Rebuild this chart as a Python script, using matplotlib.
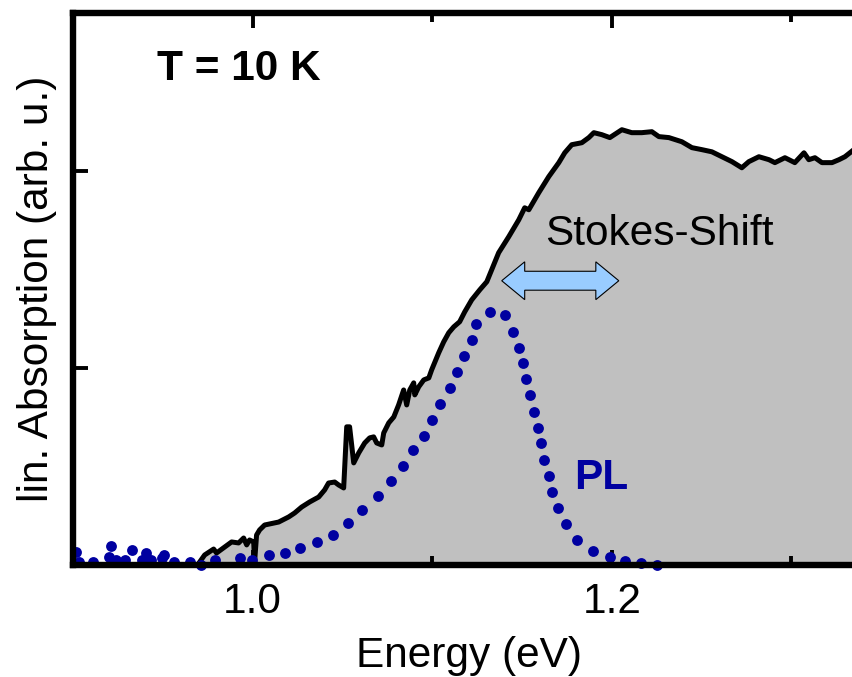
import matplotlib
matplotlib.use("Agg")
import matplotlib.pyplot as plt
from matplotlib.patches import Polygon
from matplotlib.ticker import MultipleLocator

plt.rcParams['font.family'] = ['Liberation Sans', 'DejaVu Sans']

# absorption spectrum (black line, gray fill)
abs_x = [0.9705, 0.9733, 0.9783, 0.9799, 0.9844, 0.9883, 0.9922, 0.9950, 0.9967, 0.9983,
         1.0006, 1.0011, 1.0022, 1.0039, 1.0067, 1.0145, 1.0201, 1.0234, 1.0273, 1.0318,
         1.0368, 1.0401, 1.0423, 1.0457, 1.0479, 1.0507, 1.0524, 1.0540, 1.0563, 1.0591,
         1.0624, 1.0652, 1.0674, 1.0691, 1.0719, 1.0730, 1.0758, 1.0786, 1.0813, 1.0841,
         1.0858, 1.0875, 1.0897, 1.0903, 1.0925, 1.0953, 1.0981, 1.0997, 1.1036, 1.1064,
         1.1092, 1.1120, 1.1153, 1.1181, 1.1220, 1.1265, 1.1304, 1.1370, 1.1426, 1.1482,
         1.1515, 1.1538, 1.1554, 1.1593, 1.1649, 1.1705, 1.1738, 1.1777, 1.1833, 1.1872,
         1.1900, 1.1944, 1.1989, 1.2056, 1.2111, 1.2167, 1.2223, 1.2262, 1.2318, 1.2390,
         1.2446, 1.2501, 1.2557, 1.2613, 1.2669, 1.2724, 1.2763, 1.2819, 1.2875, 1.2908,
         1.2964, 1.3019, 1.3070, 1.3097, 1.3131, 1.3170, 1.3226, 1.3265, 1.3298, 1.3348,
         1.3409]
abs_y = [0.015, 0.051, 0.081, 0.061, 0.091, 0.117, 0.112, 0.137, 0.102, 0.127,
         0.117, 0.015, 0.152, 0.178, 0.203, 0.218, 0.244, 0.264, 0.294, 0.320,
         0.345, 0.381, 0.416, 0.421, 0.406, 0.391, 0.701, 0.701, 0.518, 0.569,
         0.619, 0.645, 0.650, 0.619, 0.609, 0.670, 0.721, 0.751, 0.812, 0.888,
         0.812, 0.888, 0.924, 0.863, 0.904, 0.939, 0.949, 0.990, 1.076, 1.132,
         1.178, 1.208, 1.234, 1.284, 1.345, 1.396, 1.437, 1.584, 1.665, 1.751,
         1.812, 1.802, 1.827, 1.888, 1.970, 2.041, 2.091, 2.132, 2.142, 2.168,
         2.193, 2.183, 2.168, 2.208, 2.193, 2.193, 2.198, 2.173, 2.168, 2.147,
         2.117, 2.107, 2.096, 2.071, 2.046, 2.015, 2.046, 2.071, 2.056, 2.041,
         2.066, 2.041, 2.091, 2.056, 2.066, 2.041, 2.041, 2.056, 2.071, 2.107,
         2.120]

# photoluminescence (blue dots)
pl_x = [0.9019, 0.9031, 0.9114, 0.9198, 0.9214, 0.9242, 0.9287, 0.9331, 0.9382, 0.9409,
        0.9437, 0.9493, 0.9504, 0.9565, 0.9649, 0.9710, 0.9788, 0.9928, 0.9994, 1.0089,
        1.0178, 1.0262, 1.0357, 1.0446, 1.0529, 1.0607, 1.0696, 1.0769, 1.0836, 1.0891,
        1.0953, 1.0997, 1.1042, 1.1097, 1.1136, 1.1175, 1.1220, 1.1242, 1.1320, 1.1404,
        1.1448, 1.1482, 1.1504, 1.1521, 1.1543, 1.1565, 1.1588, 1.1604, 1.1621, 1.1649,
        1.1666, 1.1699, 1.1744, 1.1805, 1.1894, 1.1989, 1.2072, 1.2162, 1.2251]
pl_y = [0.066, 0.015, 0.015, 0.041, 0.096, 0.025, 0.025, 0.076, 0.025, 0.061,
        0.025, 0.036, 0.051, 0.015, 0.015, 0.000, 0.025, 0.036, 0.025, 0.051,
        0.061, 0.086, 0.117, 0.152, 0.213, 0.279, 0.350, 0.426, 0.503, 0.584,
        0.655, 0.736, 0.817, 0.898, 0.980, 1.061, 1.142, 1.223, 1.284, 1.269,
        1.183, 1.102, 1.025, 0.944, 0.863, 0.777, 0.695, 0.619, 0.533, 0.452,
        0.371, 0.289, 0.208, 0.127, 0.071, 0.041, 0.020, 0.010, 0.000]

# Stokes shift arrow
arrow_x0, arrow_x1, arrow_y = 1.1387, 1.2039, 1.442
body_h, head_h, head_len = 0.048, 0.096, 0.0128

fig = plt.figure(figsize=(8.52, 6.77), dpi=100)
ax = fig.add_axes([0.0857, 0.1654, 0.9296, 0.8154])

ax.fill_between(abs_x, abs_y, 0, color='#c0c0c0', lw=0, zorder=1)
ax.plot(abs_x, abs_y, color='black', lw=3.6, solid_joinstyle='round', zorder=2)
ax.plot(pl_x, pl_y, 'o', color='#0000a0', ms=7.8, mec='none', zorder=2.2, clip_on=False)

pts = [(arrow_x0, arrow_y),
       (arrow_x0 + head_len, arrow_y + head_h),
       (arrow_x0 + head_len, arrow_y + body_h),
       (arrow_x1 - head_len, arrow_y + body_h),
       (arrow_x1 - head_len, arrow_y + head_h),
       (arrow_x1, arrow_y),
       (arrow_x1 - head_len, arrow_y - head_h),
       (arrow_x1 - head_len, arrow_y - body_h),
       (arrow_x0 + head_len, arrow_y - body_h),
       (arrow_x0 + head_len, arrow_y - head_h)]
ax.add_patch(Polygon(pts, closed=True, fc='#99ccff', ec='black', lw=0.8, zorder=3))

ax.text(1.1627, 1.624, 'Stokes-Shift', fontsize=30.5, va='baseline', ha='left')
ax.text(0.9465, 2.462, 'T = 10 K', fontsize=30.5, fontweight='bold', va='baseline', ha='left')
ax.text(1.1788, 0.386, 'PL', fontsize=30.5, fontweight='bold', color='#0000a0',
        va='baseline', ha='left')

ax.set_xlim(0.9, 1.341)
ax.set_ylim(0, 2.80)
ax.xaxis.set_major_locator(MultipleLocator(0.2))
ax.xaxis.set_minor_locator(MultipleLocator(0.1))
ax.set_yticks([1, 2])
ax.set_yticklabels([])

for s in ['left', 'bottom', 'top']:
    ax.spines[s].set_linewidth(4.6)
ax.spines['right'].set_visible(False)

ax.tick_params(axis='x', which='major', direction='in', length=11, width=2.8,
               top=True, labelsize=30.5, pad=12)
ax.tick_params(axis='x', which='minor', direction='in', length=6.5, width=2.8, top=True)
ax.tick_params(axis='y', which='major', direction='in', length=11, width=2.8,
               left=True, right=False)

ax.set_xlabel('Energy (eV)', fontsize=30.5, labelpad=10)
ax.set_ylabel('lin. Absorption (arb. u.)', fontsize=30.5, labelpad=8)

fig.savefig('out.png', dpi=100)
